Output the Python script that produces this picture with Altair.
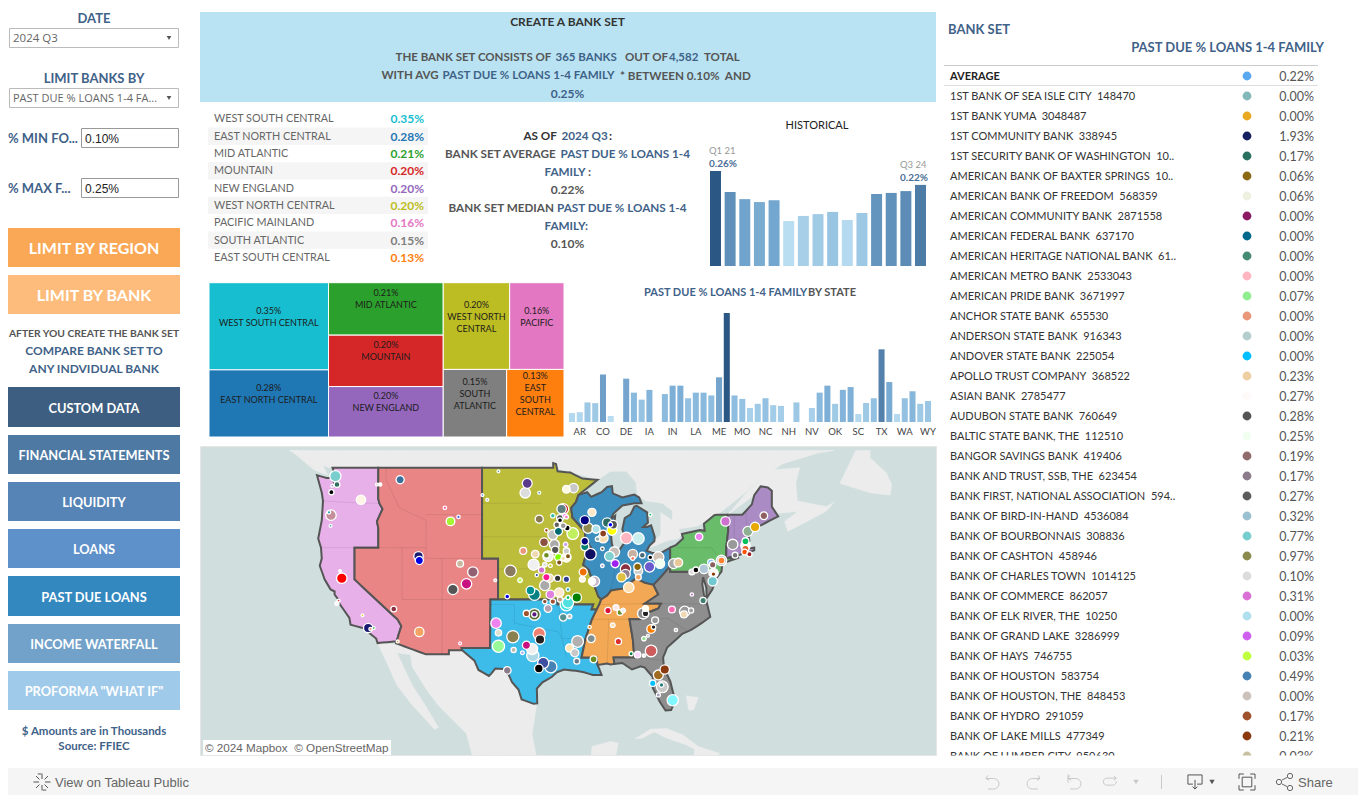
import math
import altair as alt
import pandas as pd

FONT = "Lato"
BLUE = "#3F6289"
GREY = "#555555"
NB = " \u00a0"  # keeps the double space between a bank name and its id

# ---------------- data ----------------
regions = ["WEST SOUTH CENTRAL", "EAST NORTH CENTRAL", "MID ATLANTIC", "MOUNTAIN", "NEW ENGLAND",
           "WEST NORTH CENTRAL", "PACIFIC MAINLAND", "SOUTH ATLANTIC", "EAST SOUTH CENTRAL"]
region_values = [0.0035, 0.0028, 0.0021, 0.0020, 0.0020, 0.0020, 0.0016, 0.0015, 0.0013]
region_colors = ["#17BECF", "#1F77B4", "#2CA02C", "#D62728", "#9467BD", "#BCBD22", "#E377C2", "#7F7F7F", "#FF7F0E"]

tree_columns = [["WSC", "ENC"], ["MA", "MTN", "NE"]]
tree_keys = ["WSC", "ENC", "MA", "MTN", "NE", "WNC", "PAC", "SA", "ESC"]
tree_labels = ["0.35%\nWEST SOUTH CENTRAL", "0.28%\nEAST NORTH CENTRAL", "0.21%\nMID ATLANTIC",
               "0.20%\nMOUNTAIN", "0.20%\nNEW ENGLAND", "0.20%\nWEST NORTH\nCENTRAL", "0.16%\nPACIFIC",
               "0.15%\nSOUTH\nATLANTIC", "0.13%\nEAST\nSOUTH\nCENTRAL"]
tree_weights = [10266, 7906, 5928, 5814, 5700, 5676, 4644, 4221, 3819]

quarters = ["Q1 21", "Q2 21", "Q3 21", "Q4 21", "Q1 22", "Q2 22", "Q3 22", "Q4 22",
            "Q1 23", "Q2 23", "Q3 23", "Q4 23", "Q1 24", "Q2 24", "Q3 24"]
hist_values = [0.26, 0.2025, 0.183, 0.175, 0.18, 0.123, 0.137, 0.142, 0.148, 0.126, 0.145, 0.197, 0.20, 0.205, 0.222]

states = ["AL", "AR", "AZ", "CA", "CO", "CT", "DC", "DE", "FL", "GA", "IA", "ID", "IL", "IN", "KS", "KY",
          "LA", "MA", "MD", "ME", "MI", "MN", "MO", "MS", "MT", "NC", "ND", "NE", "NH", "NJ", "NM", "NV",
          "NY", "OH", "OK", "OR", "PA", "SC", "SD", "TN", "TX", "UT", "VA", "WA", "WI", "WV", "WY"]
state_values = [.064, .07, .14, .135, .34, .043, 0, .31, .21, .16, .23, 0, .20, .26, .26, .17,
                .21, .21, .19, .32, .78, .19, .165, .10, .13, .17, .12, .115, 0, .14, 0, .10,
                .21, .26, .13, .23, .25, .057, .136, .17, .52, .286, .057, .17, .22, .13, .15]
state_ticks = ["AR", "CO", "DE", "IA", "IN", "LA", "ME", "MO", "NC", "NH", "NV", "OK", "SC", "TX", "WA", "WY"]

banks = ["AVERAGE", "1ST BANK OF SEA ISLE CITY  148470", "1ST BANK YUMA  3048487", "1ST COMMUNITY BANK  338945",
         "1ST SECURITY BANK OF WASHINGTON  10..", "AMERICAN BANK OF BAXTER SPRINGS  10..",
         "AMERICAN BANK OF FREEDOM  568359", "AMERICAN COMMUNITY BANK  2871558", "AMERICAN FEDERAL BANK  637170",
         "AMERICAN HERITAGE NATIONAL BANK  61..", "AMERICAN METRO BANK  2533043", "AMERICAN PRIDE BANK  3671997",
         "ANCHOR STATE BANK  655530", "ANDERSON STATE BANK  916343", "ANDOVER STATE BANK  225054",
         "APOLLO TRUST COMPANY  368522", "ASIAN BANK  2785477", "AUDUBON STATE BANK  760649",
         "BALTIC STATE BANK, THE  112510", "BANGOR SAVINGS BANK  419406", "BANK AND TRUST, SSB, THE  623454",
         "BANK FIRST, NATIONAL ASSOCIATION  594..", "BANK OF BIRD-IN-HAND  4536084", "BANK OF BOURBONNAIS  308836",
         "BANK OF CASHTON  458946", "BANK OF CHARLES TOWN  1014125", "BANK OF COMMERCE  862057",
         "BANK OF ELK RIVER, THE  10250", "BANK OF GRAND LAKE  3286999", "BANK OF HAYS  746755",
         "BANK OF HOUSTON  583754", "BANK OF HOUSTON, THE  848453", "BANK OF HYDRO  291059",
         "BANK OF LAKE MILLS  477349", "BANK OF LUMBER CITY  950630"]
bank_values = [.0022, 0, 0, .0193, .0017, .0006, .0006, 0, 0, 0, 0, .0007, 0, 0, 0, .0023, .0027, .0028, .0025,
               .0019, .0017, .0027, .0032, .0077, .0097, .0010, .0031, 0, .0009, .0003, .0049, 0, .0017, .0021, .0003]
bank_colors = ["#5AA9F0", "#84B8B8", "#E8A820", "#142060", "#2A7060", "#8B6914", "#EEF0E0", "#8B1A62", "#00688B",
               "#458B74", "#FFB6C1", "#90EE90", "#E9967A", "#B4CDCD", "#00BFFF", "#EECFA1", "#FFFAFA", "#555555",
               "#F0FFF0", "#8F6B6B", "#8B7B8B", "#5C5C5C", "#9BC0D0", "#76CDCD", "#8B8B4E", "#DCDCDC", "#DA70D6",
               "#B0E0EE", "#D060F0", "#BFFF3E", "#4682B4", "#CDC1BB", "#A0522D", "#8B3A0E", "#C8C0A0"]

# region outlines, lon/lat
pacific = [(-122.76, 49), (-117.03, 49), (-117.04, 46.4), (-116.9, 46), (-116.5, 45.5), (-117.2, 44.4), (-117.03, 43.8),
           (-117.03, 42), (-120, 42), (-120, 39), (-114.63, 35), (-114.15, 34.3), (-114.5, 33.4), (-114.72, 32.72),
           (-117.12, 32.53), (-117.3, 33), (-118.4, 33.75), (-118.5, 34.03), (-119.2, 34.15), (-120.5, 34.45),
           (-120.65, 35.15), (-121.9, 36.6), (-122, 36.95), (-122.5, 37.5), (-122.5, 37.8), (-123, 38), (-123.75, 39),
           (-124.35, 40.3), (-124.1, 41), (-124.2, 42), (-124.55, 42.85), (-124.1, 44.5), (-123.95, 46.2), (-124.1, 46.9),
           (-124.7, 48.38), (-123.5, 48.15), (-122.75, 48.15), (-122.4, 47.4), (-122.3, 47.9), (-122.5, 48.5)]
mountain = [(-117.03, 49), (-104.05, 49), (-104.05, 41), (-102.05, 41), (-102.05, 37), (-103, 37), (-103.05, 32),
            (-106.6, 32), (-106.53, 31.78), (-108.2, 31.78), (-108.2, 31.33), (-111.07, 31.33), (-114.8, 32.5),
            (-114.72, 32.72), (-114.5, 33.4), (-114.15, 34.3), (-114.63, 35), (-120, 39), (-120, 42), (-117.03, 42),
            (-117.03, 43.8), (-117.2, 44.4), (-116.5, 45.5), (-116.9, 46), (-117.04, 46.4)]
west_north = [(-104.05, 49), (-95.15, 49), (-95.15, 49.38), (-94.8, 49.3), (-94.6, 48.7), (-93, 48.6), (-91.5, 48.1),
              (-89.6, 48), (-92, 46.7), (-92.3, 46.1), (-92.9, 45.6), (-92.75, 44.75), (-91.2, 43.5), (-91.1, 42.7),
              (-90.2, 41.8), (-91.1, 41.2), (-91.4, 40.4), (-90.7, 39.9), (-90.2, 38.8), (-89.5, 37.3), (-89.15, 37),
              (-89.4, 36.5), (-89.7, 36), (-90.37, 36), (-90.15, 36.5), (-94.62, 36.5), (-94.62, 37), (-102.05, 37),
              (-102.05, 41), (-104.05, 41)]
west_south = [(-103, 37), (-94.62, 37), (-94.62, 36.5), (-90.15, 36.5), (-90.37, 36), (-89.7, 36), (-90.3, 35), (-91.1, 33),
              (-91.6, 31), (-89.73, 31), (-89.6, 30.2), (-89.4, 29.8), (-89.1, 29.1), (-90.2, 29.1), (-91.3, 29.4),
              (-92.3, 29.55), (-93.8, 29.7), (-94.7, 29.4), (-95.3, 28.9), (-96.5, 28.3), (-97.2, 27.6), (-97.15, 25.95),
              (-97.6, 25.9), (-99.1, 26.4), (-99.5, 27.5), (-100.3, 28.3), (-100.7, 29.1), (-101.4, 29.75), (-102.4, 29.8),
              (-102.9, 29.25), (-103.2, 29), (-104.5, 29.65), (-105, 30.65), (-106.53, 31.78), (-106.6, 32), (-103.05, 32)]
east_north = [(-92, 46.7), (-90.9, 46.95), (-90.4, 46.55), (-89.1, 46.95), (-88.4, 47.4), (-87.8, 47.47), (-87.7, 46.85),
              (-86.5, 46.5), (-85, 46.75), (-84.4, 46.5), (-84.1, 46), (-85, 46), (-86.5, 45.8), (-87.6, 45.1), (-88, 44.55),
              (-87.4, 44.9), (-87.5, 44.2), (-87.9, 43), (-87.8, 42.3), (-87.5, 41.7), (-86.9, 41.75), (-86.3, 42.4),
              (-86.25, 43.1), (-86.5, 43.7), (-86.2, 44.7), (-85.5, 45), (-85, 45.7), (-84.7, 45.78), (-83.4, 45.2),
              (-83.3, 44.3), (-83.9, 43.9), (-83.4, 43.9), (-82.9, 44.05), (-82.45, 43), (-82.5, 42.6), (-83.1, 42.2),
              (-83.45, 41.72), (-82.7, 41.5), (-81.7, 41.5), (-80.52, 42), (-80.52, 40.64), (-80.7, 40.1), (-81.7, 39.2),
              (-82.6, 38.45), (-83.7, 38.65), (-84.8, 39.1), (-85.4, 38.7), (-86.3, 38.1), (-87.9, 37.9), (-88.4, 37.4),
              (-89.15, 37), (-89.5, 37.3), (-90.2, 38.8), (-90.7, 39.9), (-91.4, 40.4), (-91.1, 41.2), (-90.2, 41.8),
              (-91.1, 42.7), (-91.2, 43.5), (-92.75, 44.75), (-92.9, 45.6), (-92.3, 46.1)]
east_south = [(-89.15, 37), (-88.4, 37.4), (-87.9, 37.9), (-86.3, 38.1), (-85.4, 38.7), (-84.8, 39.1), (-83.7, 38.65),
              (-82.6, 38.45), (-82, 37.5), (-83.68, 36.6), (-81.68, 36.59), (-82, 36.1), (-83.1, 35.75), (-84.3, 35),
              (-85.6, 35), (-85.18, 32.87), (-85, 31), (-87.6, 31), (-87.5, 30.3), (-88, 30.25), (-88.4, 30.35), (-89.6, 30.2),
              (-89.73, 31), (-91.6, 31), (-91.1, 33), (-90.3, 35), (-89.7, 36), (-89.4, 36.5)]
south_atlantic = [(-80.52, 40.64), (-80.52, 39.72), (-75.79, 39.72), (-75.4, 39.8), (-75.1, 38.8), (-75.05, 38.45), (-75.25, 38),
                  (-75.95, 37.15), (-76, 38.2), (-76.4, 39.2), (-76.5, 38.5), (-76.3, 37.5), (-76, 36.9), (-75.5, 35.25),
                  (-76.5, 34.65), (-77.9, 33.9), (-79, 33.5), (-80.9, 32.05), (-81.4, 31), (-81.3, 29.9), (-80.5, 28.4),
                  (-80.05, 26.8), (-80.15, 25.75), (-80.4, 25.2), (-81.1, 25.15), (-81.8, 26.1), (-82.7, 27.7), (-82.7, 28.9),
                  (-83.7, 29.9), (-84.2, 30.05), (-85.3, 29.7), (-86.5, 30.4), (-87.5, 30.3), (-87.6, 31), (-85, 31),
                  (-85.18, 32.87), (-85.6, 35), (-84.3, 35), (-83.1, 35.75), (-82, 36.1), (-81.68, 36.59), (-83.68, 36.6),
                  (-82, 37.5), (-82.6, 38.45), (-81.7, 39.2), (-80.7, 40.1)]
mid_atlantic = [(-80.52, 42), (-79.76, 42.27), (-78.9, 42.85), (-79.05, 43.27), (-76.8, 43.63), (-76.2, 43.55), (-76.3, 44.2),
                (-75, 44.95), (-74.7, 45), (-73.35, 45), (-73.25, 43.6), (-73.5, 42.05), (-73.5, 41.3), (-73.65, 41),
                (-71.9, 41.07), (-73.9, 40.55), (-74, 40.45), (-74.1, 39.75), (-74.9, 38.95), (-75.4, 39.4), (-75.55, 39.65),
                (-75.79, 39.72), (-80.52, 39.72), (-80.52, 40.64)]
new_england = [(-73.35, 45), (-71.5, 45), (-71.08, 45.3), (-70.3, 45.9), (-70, 46.7), (-69.2, 47.45), (-68.3, 47.35),
               (-67.8, 47.07), (-67.8, 45.7), (-67, 44.85), (-68.5, 44.3), (-70, 43.75), (-70.7, 43.05), (-70.6, 42.65),
               (-71, 42.3), (-70.6, 41.95), (-70, 42), (-70, 41.75), (-70.6, 41.6), (-71.4, 41.45), (-72, 41.3), (-73.65, 41),
               (-73.5, 41.3), (-73.5, 42.05), (-73.25, 43.6)]
region_shapes = [pacific, mountain, west_north, west_south, east_north, east_south, south_atlantic, mid_atlantic, new_england]
region_fills = ["#E8B0E8", "#E98585", "#BDBD3C", "#3DBCEA", "#3C8EBF", "#F2A854", "#8E8E8E", "#68BC6A", "#AA8BC4"]

# neighbouring land, lon/lat
canada_west = [(-128.2, 50.4), (-125, 49.5), (-123.2, 49), (-95, 49), (-89.5, 48), (-88, 48.7), (-86, 48.7), (-84.8, 47.8),
               (-84.6, 46.6), (-83.5, 46.2), (-81.5, 46), (-80.2, 45.3), (-80.3, 44.5), (-81.7, 45.2), (-81.7, 43.2),
               (-82.5, 42.6), (-83, 42), (-81, 42.6), (-79.5, 42.85), (-79.1, 43.2), (-79.5, 43.7), (-77, 44), (-75.8, 44.5),
               (-74.5, 45.05), (-71.5, 46.7), (-69, 48.2), (-66.5, 49.3), (-62, 50.2), (-60, 50.4)]
canada_east = [(-73.3, 45), (-71, 46.9), (-68, 48.8), (-64.3, 49), (-64.8, 47.8), (-64.6, 46.2), (-61, 45.7), (-60, 46.1),
               (-61, 45.3), (-65.8, 43.5), (-66.2, 44.4), (-64.5, 45.3), (-67, 45.1), (-67.8, 45.7), (-68, 47.2), (-70, 46.7)]
newfoundland = [(-59.3, 47.7), (-55.5, 46.9), (-53, 46.7), (-52.8, 47.6), (-53.5, 48.6), (-55.5, 49.8), (-55.5, 50.4), (-57.3, 50.4)]
vancouver = [(-125, 48.8), (-123.4, 48.4), (-124, 49.3), (-127, 50.4), (-128, 50.4)]
mexico = [(-117.1, 32.5), (-116, 30.5), (-114.7, 28), (-113, 26), (-110, 23), (-109.5, 23.2), (-111, 25.5), (-112.8, 28),
          (-114.7, 31.5), (-113, 31.3), (-112.8, 30), (-111, 27.5), (-109.5, 25.7), (-106, 22.5), (-105.3, 20), (-97.3, 20),
          (-97.8, 22.5), (-97.2, 25.9), (-100, 30), (-106, 32)]
yucatan = [(-90.4, 20), (-90.3, 21), (-88, 21.6), (-87, 21.4), (-87.3, 20)]
cuba = [(-84.9, 21.9), (-83, 23), (-81, 23.1), (-79, 22.4), (-77, 21), (-74.3, 20.2), (-74.5, 20), (-77.5, 20), (-77.5, 20.7),
        (-78.5, 21.2), (-81, 22), (-82.5, 22.7), (-84, 22)]
bahamas = [(-78.5, 26.8), (-77, 26.6), (-77.6, 25.2), (-78.2, 25.2)]
land_shapes = [canada_west, canada_east, newfoundland, vancouver, mexico, yucatan, cuba, bahamas]

state_lines = [
    [(-111.05, 45), (-104.05, 45)], [(-111.05, 44.5), (-111.05, 41)], [(-111.05, 41), (-104.05, 41)],
    [(-116.05, 49), (-116.05, 48), (-114.4, 45.6), (-111.05, 44.5)], [(-120, 42), (-111.05, 42)], [(-114.05, 42), (-114.05, 37)],
    [(-114.05, 37), (-102.05, 37)], [(-109.05, 41), (-109.05, 31.33)], [(-124.2, 42), (-120, 42)], [(-124, 46.2), (-119, 46), (-117, 46)],
    [(-104.05, 46), (-96.6, 46)], [(-104.05, 43), (-96.5, 43)], [(-102.05, 40), (-95.3, 40)], [(-96.5, 43), (-91.2, 43.5)],
    [(-90.6, 42.5), (-87.8, 42.5)], [(-87.5, 41.7), (-87.5, 39.3), (-88, 37.9)], [(-84.8, 41.7), (-84.8, 39.1)], [(-84.8, 41.7), (-83.45, 41.72)],
    [(-103, 36.5), (-100, 36.5), (-100, 34.6), (-94.5, 33.7), (-94.05, 33), (-91.1, 33)], [(-94.45, 36.5), (-94.05, 33), (-93.5, 31)],
    [(-88.2, 35), (-85.6, 35)], [(-90.3, 35), (-88.2, 35)], [(-89.4, 36.5), (-83.68, 36.6)], [(-88.2, 35), (-88.4, 30.35)],
    [(-73.35, 42.75), (-70.8, 42.85)], [(-72.5, 45), (-72.5, 42.75)], [(-71.1, 45.3), (-70.8, 43.1)], [(-73.5, 42.05), (-71.8, 42.02)],
    [(-79.76, 42), (-75.35, 42), (-74.7, 41.35)], [(-83.68, 36.6), (-75.9, 36.55)], [(-84.3, 35), (-83.1, 35), (-80.8, 35.1), (-78.5, 33.85)],
    [(-85, 31), (-81.5, 30.7)],
]

# bank locations as read: lon, lat, radius, colour
dots_west = [(-122.4, 48.3, 5.7, "#78CDCD"), (-122.2, 47.6, 2.7, "#2F6F60"), (-122.9, 46.95, 2.3, "#000000"), (-122.8, 47.5, 1, "#8A80D0"),
             (-119.2, 46.3, 4.7, "#FFF5E6"), (-122.95, 44.95, 5.3, "#C48F9A"), (-123.2, 45.2, 1.3, "#20A0B0"), (-123, 44, 1, "#30A0A0"),
             (-114.3, 48, 4, "#3A6F9A"), (-117.2, 47.6, 1, "#F0C0C0"), (-116.8, 47.6, 1.3, "#FFFFFF"), (-108.7, 45.6, 1.3, "#FF40A0"),
             (-108, 44.4, 4.3, "#A5F535"), (-107, 44.8, 1.3, "#4060F0"), (-112, 41.2, 4.7, "#1A1A70"), (-111.9, 40.8, 4, "#0000E0"),
             (-106.8, 40.5, 3.3, "#C8B8A0"), (-105.2, 39.7, 5.3, "#926070"), (-106, 38.55, 5.3, "#C81080"), (-107.7, 38, 5.3, "#555555"),
             (-102.4, 38.9, 1, "#F0C0C0"), (-115.1, 36.05, 2.7, "#8B3040"), (-111.9, 33.7, 4.7, "#F4A460"), (-106.8, 32.5, 1, "#F060B0"),
             (-114.6, 32.7, 1, "#F0A040"), (-121.6, 39.1, 5.3, "#FF0000"), (-121.8, 39.8, 1, "#FFFFFF"), (-122, 36.9, 1, "#E03030"),
             (-122.2, 36.6, 1.7, "#FFFFFF"), (-119, 35.4, 1, "#F0D020"), (-118.3, 34.1, 4.7, "#1A1A70"), (-117.6, 34.1, 1, "#00A040"),
             (-118, 34, 1.3, "#E9967A")]
dots_plains = [(-98.4, 47.7, 5, "#5A3A8A"), (-98.65, 46.9, 5.3, "#DCDCDC"), (-96.9, 46.9, 1, "#2A8090"), (-102, 48.7, 1, "#70A090"),
               (-104, 46.7, 1, "#70A0F0"), (-103.4, 46.3, 1, "#A0B0B0"), (-93.5, 47.2, 3.7, "#FFF8E0"), (-92.6, 47.3, 4.7, "#C8C8C8"),
               (-96.9, 44.6, 4, "#8A7A50"), (-93.9, 45.5, 5.5, "#C80000"), (-94.1, 45.5, 4.7, "#5F8080"), (-95.2, 43.2, 5, "#C0C0C0"),
               (-96.3, 42.5, 4.3, "#8B5040"), (-95, 42.3, 5, "#AAAAAA"), (-94.9, 41.8, 3.7, "#555555"), (-98.9, 41.7, 3.3, "#E9967A"),
               (-97.4, 41.4, 3.7, "#F0D8B0"), (-95.8, 41.2, 5.3, "#EEEEEE"), (-96, 41.3, 2.7, "#6B8E23"), (-94.5, 41.1, 3.7, "#80FF00"),
               (-100.5, 39.8, 6, "#8A7A60"), (-97.6, 40.4, 5.7, "#F0F0F0"), (-96.6, 39.9, 3, "#D070D0"), (-96.2, 38.4, 5.3, "#AAAAAA"),
               (-95.6, 39.1, 4, "#F0D8B0"), (-95.5, 37.5, 4.3, "#E080E0"), (-93.5, 39, 3, "#304090"), (-94.4, 37.7, 4.7, "#FFE8D0"),
               (-98, 37.9, 4.3, "#009090"), (-97.5, 37.5, 6, "#008080"), (-100.9, 37.3, 2, "#0000E0"), (-99.3, 38.9, 2, "#C0FF60"),
               (-92.7, 43.3, 6, "#C0F060"), (-93.4, 43.8, 2.7, "#000000"), (-93.5, 41.1, 4.7, "#FFF8E0"), (-91.4, 39.7, 4, "#F07000"),
               (-91.5, 39, 2.7, "#FFF8E0"), (-90, 38.8, 5.3, "#C8B8C8"), (-90.3, 38.8, 3.3, "#FFFFFF"), (-92.2, 37.2, 4.7, "#008000"),
               (-93.3, 36.7, 5.7, "#50E0E0"), (-93.3, 37.2, 1.7, "#00C060"), (-94.3, 44.5, 2.2, "#000000"), (-93.6, 42.3, 2, "#D0A0F0"),
               (-94.4, 40.6, 2.4, "#7F5010"), (-93.9, 41, 2, "#F0E0B0"), (-95.2, 44.9, 2, "#30C0A0"), (-94.7, 44.1, 2.6, "#606060"),
               (-95.5, 40.3, 1.5, "#D0D030"), (-96, 43.6, 1.5, "#A04020"), (-97.2, 39.4, 1.3, "#3050A0"), (-95.2, 36.8, 2.5, "#A05030"),
               (-94.3, 37, 2.4, "#C0A080"), (-93.3, 38, 1.5, "#20A0C0"), (-96, 39.2, 3.5, "#FF1493"), (-94.6, 39.1, 3, "#333333"),
               (-94.3, 44.7, 3.3, "#555555"), (-93.9, 44, 2.7, "#999999"), (-94.5, 43.5, 4, "#006A70"), (-93.5, 44.8, 1.7, "#FF80C0"),
               (-93.5, 41.7, 3, "#CCCCCC"), (-93.3, 41.2, 2.3, "#7F5010"), (-96.2, 40.4, 2, "#E0E0E0"), (-93.7, 44.9, 2, "#FF69FF")]
dots_great_lakes = [(-90.3, 45.2, 4, "#FFE8C8"), (-91.2, 44.5, 4.7, "#000080"), (-90.8, 43.8, 5.3, "#8F8850"), (-89.8, 43.7, 4, "#B0E0E8"),
                    (-88.4, 44.3, 4.7, "#2A6A60"), (-87.65, 44.1, 4.3, "#555555"), (-87.8, 43.6, 5, "#FFFF00"), (-88, 44.1, 2, "#0000FF"),
                    (-86, 42.9, 6, "#FFB6C1"), (-84.5, 42.85, 6, "#C8EEEE"), (-88.9, 42.9, 5, "#F5DEB3"), (-88.9, 43.3, 3.3, "#8B4020"),
                    (-91.2, 42.6, 3.7, "#000080"), (-91.2, 42.1, 4, "#008070"), (-90.5, 41.4, 6, "#101060"), (-88.1, 41.2, 5, "#80D0D0"),
                    (-87.5, 41.6, 5.3, "#C8BEB8"), (-87.4, 40.5, 4, "#A020F0"), (-86.1, 40, 5.3, "#8B3040"), (-86.1, 39.5, 4.7, "#908090"),
                    (-86.6, 39.2, 4.7, "#E0C040"), (-85.2, 41.4, 4.7, "#C8B0A0"), (-85.2, 41, 1.7, "#FF7050"), (-84.6, 40.2, 3.7, "#8B6508"),
                    (-84.5, 39.8, 4.3, "#CCCCCC"), (-84.5, 39.2, 2.7, "#F4A460"), (-83.1, 40.2, 5.3, "#6A5ACD"), (-82, 41.1, 5.7, "#D3C4B8"),
                    (-81.8, 40.5, 4.7, "#F0FFF0"), (-84, 41.3, 2.7, "#4A6A7A"), (-83, 41.1, 2, "#000000"), (-85.7, 38.2, 5.3, "#FFDEAD"),
                    (-89.6, 42.8, 2, "#90B0B0"), (-89, 41.9, 1.4, "#606060"), (-89, 40.3, 1.4, "#A0A0D0"), (-83, 45, 1.2, "#00C060")]
dots_northeast = [(-80.1, 40.5, 5, "#AAAAAA"), (-79.5, 40.6, 4.3, "#E8C898"), (-76.9, 43, 3.7, "#EE82EE"), (-73.6, 44.4, 4.7, "#D070D0"),
                  (-77.8, 39.7, 2.7, "#DDDDDD"), (-77.3, 39.9, 2.7, "#000000"), (-76.3, 40, 4.7, "#B0C8D8"), (-75.4, 40.6, 3.3, "#80C0FF"),
                  (-75.2, 40.4, 3, "#8B6060"), (-74.1, 40.8, 5.3, "#AAAAAA"), (-74.1, 40.8, 3.3, "#FF8030"), (-75.1, 39.6, 4.7, "#F8F8F8"),
                  (-75.1, 39.5, 2, "#8B4000"), (-75.2, 38.8, 4.7, "#70C8D0"), (-76.4, 36.9, 3, "#408070"), (-77.8, 37.5, 1.3, "#C070C0"),
                  (-68.8, 44.9, 3.7, "#8F6060"), (-69.9, 43.9, 4.7, "#E8A800"), (-70.8, 43.5, 5, "#8FB090"), (-72.7, 42.3, 5.3, "#999999"),
                  (-71.1, 42.6, 3.3, "#00C060"), (-71.1, 42.2, 4.7, "#F8F8F8"), (-71.1, 41.9, 3.3, "#E06030"), (-70.6, 41.4, 2.3, "#A02020"),
                  (-72.4, 41.3, 2.7, "#777777"), (-71.2, 41.6, 2.7, "#FF5000")]
dots_south = [(-80.3, 36, 3.3, "#FF69B4"), (-78.7, 35.8, 5.3, "#999999"), (-78.8, 35.5, 3.3, "#F0D8B0"), (-77.9, 35.9, 2.3, "#A0A0A0"),
              (-82.4, 34.9, 3.3, "#999999"), (-82.9, 34, 4.3, "#FF8000"), (-82.6, 34.2, 2, "#222222"), (-82.9, 31.7, 6, "#CD5C5C"),
              (-83.8, 33, 2, "#90E090"), (-83.3, 33.3, 1, "#A0A0A0"), (-79.8, 33.9, 1.3, "#C0C0C0"), (-84.6, 31.3, 3, "#FFD8FF"),
              (-83.8, 31.2, 1.3, "#F0F0F0"), (-85.4, 31.4, 1.7, "#008040"), (-81.2, 29.7, 4.7, "#8B3A10"), (-82, 29.1, 5, "#A06A20"),
              (-81.5, 27.8, 6, "#C8C8C8"), (-82.7, 28.2, 3, "#00BFFF"), (-81.6, 28, 2, "#308080"), (-80.2, 26.3, 5.7, "#80F8FF"),
              (-82, 26.9, 1.7, "#A0A0C0"), (-88.3, 35.9, 3, "#DC143C"), (-87.3, 36.2, 2.7, "#FFE8E8"), (-86.8, 35.7, 2.7, "#6B8E23"),
              (-86.4, 35.9, 2, "#F0F0F0"), (-83.6, 36.1, 2.7, "#FFFFF0"), (-83.9, 35.6, 5.7, "#888888"), (-83.6, 35.6, 3, "#222222"),
              (-87.7, 34.4, 2, "#FFDEAD"), (-87, 32.7, 3, "#DC3030"), (-90.4, 33, 4, "#7F8F8F"), (-90.6, 34.2, 1.3, "#F08000"),
              (-92.1, 32.7, 6, "#B0B0B0"), (-93.1, 32, 4, "#FFE4B5"), (-92.45, 31.5, 4, "#C8C8C8"), (-93.9, 35.2, 3.7, "#559090"),
              (-93.1, 35.3, 2, "#C0C0C0"), (-92.2, 30.6, 2.7, "#6A7A8A"), (-90.1, 30.8, 3.3, "#6B8E23"), (-97.5, 35.5, 6, "#556B2F"),
              (-97.5, 35.5, 2.5, "#5A1A80"), (-98.5, 35.6, 3, "#A0522D"), (-95.8, 36.1, 3.7, "#B0A0B0"), (-102.3, 34.6, 5.3, "#EE82EE"),
              (-102, 33.6, 3, "#E0E0D0"), (-100.2, 33.2, 6.3, "#8A8050"), (-102, 32.2, 6.3, "#98FB98"), (-96.9, 33.5, 6.3, "#F08070"),
              (-96.8, 32.9, 4.7, "#222222"), (-98.5, 32.3, 4, "#C81080"), (-97.8, 31.9, 5.7, "#F0F0F0"), (-97.7, 31.2, 6.3, "#ADD8E6"),
              (-100.1, 31.8, 2.3, "#C0B8B0"), (-96.4, 30.4, 5.7, "#3F4FA0"), (-96.95, 29.8, 4.3, "#000000"), (-95.45, 30, 6.3, "#4682B4"),
              (-100.9, 29.6, 3.7, "#8A7A8A"), (-93.5, 36.5, 6.5, "#40E0E0"), (-96.2, 36.8, 2, "#8B5030"), (-99, 31.5, 1.5, "#A0A0E0")]
dot_groups = [dots_west, dots_plains, dots_great_lakes, dots_northeast, dots_south]

# ---------------- helpers ----------------
ONE = alt.Data(values=[{"k": 0}])
M = 8  # page margin
W, H = 1350, 787
LIFT = 0.5  # rendered text offset against the reference


def rect(x0, x1, y0, y1, fill, stroke=None, width=1):
    kw = {"color": fill}
    if stroke:
        kw = {"fill": fill, "stroke": stroke, "strokeWidth": width}
    return alt.Chart(ONE).mark_rect(**kw).encode(x=alt.value(x0 - M), x2=alt.value(x1 - M), y=alt.value(y0 - M), y2=alt.value(y1 - M))


def rule(x0, x1, y0, y1, color, width=1):
    return alt.Chart(ONE).mark_rule(color=color, strokeWidth=width).encode(
        x=alt.value(x0 - M), x2=alt.value(x1 - M), y=alt.value(y0 - M), y2=alt.value(y1 - M))


def text(t, x, y, size=12, color=GREY, weight="normal", align="left", font=FONT):
    return alt.Chart(ONE).mark_text(text=t, font=font, fontSize=size, color=color, fontWeight=weight, align=align,
                                    baseline="middle").encode(x=alt.value(x - M), y=alt.value(y - M + LIFT))


def icon(shape, x, y, size, color, fill=False, width=1):
    kw = {"fill": color, "filled": True, "strokeWidth": 0} if fill else {"stroke": color, "filled": False, "strokeWidth": width}
    return alt.Chart(ONE).mark_point(shape=shape, size=size, opacity=1, **kw).encode(x=alt.value(x - M), y=alt.value(y - M))


def densify(ring, step=0.5):
    out = []
    for (a, b), (c, d) in zip(ring, ring[1:]):
        n = max(1, int(max(abs(c - a), abs(d - b)) / step))
        out += [(a + (c - a) * i / n, b + (d - b) * i / n) for i in range(n)]
    return out + [ring[-1]]


def polygon(ring, fill):
    ring = list(ring) + [ring[0]]
    area = sum(a * d - c * b for (a, b), (c, d) in zip(ring, ring[1:]))
    if area > 0:  # d3-geo wants clockwise exterior rings
        ring = ring[::-1]
    return {"type": "Feature", "properties": {"fill": fill},
            "geometry": {"type": "Polygon", "coordinates": [[list(p) for p in densify(ring)]]}}


PROJ = dict(type="mercator", scale=458, translate=[1313.8 - M, 918.3 - M])
layers = []

# ---------------- page furniture ----------------
layers += [text("DATE", 94, 18.5, 13, BLUE, "bold", "center"),
           rect(9.5, 178.5, 28.5, 47.5, "#FFFFFF", "#BBBBBB"),
           text("2024 Q3", 13, 38, 11.5, "#666666", font="Open Sans"),
           icon("triangle-down", 169, 38, 22, "#555555", True),
           text("LIMIT BANKS BY", 94, 78, 13, BLUE, "bold", "center"),
           rect(9.5, 178.5, 88.5, 107.5, "#FFFFFF", "#BBBBBB"),
           text("PAST DUE % LOANS 1-4 FA...", 13, 98, 11, "#666666", font="Open Sans"),
           icon("triangle-down", 169, 98, 22, "#555555", True),
           text("% MIN FO...", 8, 138.5, 13, BLUE, "bold"),
           rect(81.5, 178.5, 128.5, 147.5, "#FFFFFF", "#999999"),
           text("0.10%", 85, 138.5, 12, "#222222", font="Liberation Sans"),
           text("% MAX F...", 8, 188.5, 13, BLUE, "bold"),
           rect(81.5, 178.5, 178.5, 197.5, "#FFFFFF", "#999999"),
           text("0.25%", 85, 188.5, 12, "#222222", font="Liberation Sans"),
           rect(8, 180, 228, 267, "#FAA856"), text("LIMIT BY REGION", 94, 248, 16, "#FFFFFF", "bold", "center"),
           rect(8, 180, 275, 314, "#FDBC7C"), text("LIMIT BY BANK", 94, 295, 16, "#FFFFFF", "bold", "center"),
           text("AFTER YOU CREATE THE BANK SET", 94, 333, 10.3, GREY, "bold", "center"),
           text("COMPARE BANK SET TO", 94, 350.5, 12, BLUE, "bold", "center"),
           text("ANY INDVIDUAL BANK", 94, 368.5, 12, BLUE, "bold", "center")]
buttons = [("CUSTOM DATA", 387, 427, "#3D5E80"), ("FINANCIAL STATEMENTS", 435, 474, "#4D79A3"), ("LIQUIDITY", 482, 521, "#5684B6"),
           ("LOANS", 529, 568, "#5E90CA"), ("PAST DUE LOANS", 576, 616, "#3388C0"), ("INCOME WATERFALL", 624, 663, "#72A2C9"),
           ('PROFORMA "WHAT IF"', 671, 710, "#9FCAE9")]
for label, y0, y1, c in buttons:
    layers += [rect(8, 180, y0, y1, c), text(label, 94, (y0 + y1) / 2 + 1, 12.8, "#FFFFFF", "bold", "center")]
layers += [text("$ Amounts are in Thousands", 94, 731, 11.5, BLUE, "bold", "center"),
           text("Source: FFIEC", 94, 746, 11.5, BLUE, "bold", "center")]

# header band
layers += [rect(200, 936, 12, 102, "#B9E3F2"),
           text("CREATE A BANK SET", 567.5, 21.5, 12, "#333333", "bold", "center"),
           text("THE BANK SET CONSISTS OF", 395.5, 57.5, 11.5, GREY, "bold"), text("365 BANKS", 555.5, 57.5, 11.5, BLUE, "bold"),
           text("OUT OF", 625, 57.5, 11.5, GREY, "bold"), text("4,582", 669, 57.5, 11.5, BLUE, "bold"), text("TOTAL", 704, 57.5, 11.5, GREY, "bold"),
           text("WITH AVG", 381.5, 75.5, 11.5, GREY, "bold"), text("PAST DUE % LOANS 1-4 FAMILY", 442.5, 75.5, 11.6, BLUE, "bold"),
           text("* BETWEEN 0.10%" + NB + "AND", 620, 75.5, 11.7, GREY, "bold"),
           text("0.25%", 567.5, 93.5, 12, BLUE, "bold", "center")]

# centre call-out
layers += [text("AS OF", 523.5, 135, 11.7, "#333333", "bold"), text("2024 Q3", 561.5, 135, 11.7, BLUE, "bold"), text(":", 609, 135, 12, "#333333", "bold"),
           text("BANK SET AVERAGE", 445, 153.5, 11.7, GREY, "bold"), text("PAST DUE % LOANS 1-4", 560.5, 153.5, 11.7, BLUE, "bold"),
           text("FAMILY", 544.5, 171.5, 11.7, BLUE, "bold"), text(":", 588, 171.5, 12, GREY, "bold"),
           text("0.22%", 567.5, 189.5, 12, GREY, "bold", "center"),
           text("BANK SET MEDIAN", 448.5, 207.5, 11.7, GREY, "bold"), text("PAST DUE % LOANS 1-4", 557, 207.5, 11.7, BLUE, "bold"),
           text("FAMILY:", 544.5, 225.5, 11.7, BLUE, "bold"),
           text("0.10%", 567.5, 243.5, 12, GREY, "bold", "center")]

# ---------------- region list ----------------
region_df = pd.DataFrame({"region": regions, "value": region_values, "color": region_colors,
                          "row": range(len(regions))})
row_y = alt.Y("region:N", sort=None, axis=None,
              scale=alt.Scale(type="band", domain=regions, range=[110.3 - M, 266 - M]))
layers += [
    alt.Chart(region_df).transform_filter("datum.row % 2 == 1").mark_rect(color="#F5F5F5").encode(
        y=row_y, x=alt.value(208 - M), x2=alt.value(428 - M)),
    alt.Chart(region_df).mark_text(align="left", baseline="middle", font=FONT, fontSize=10.8, color="#666666", dy=LIFT).encode(
        y=row_y, x=alt.value(214 - M), text="region:N"),
    alt.Chart(region_df).mark_text(align="right", baseline="middle", font=FONT, fontSize=12, fontWeight="bold", dy=LIFT).encode(
        y=row_y, x=alt.value(424 - M), text=alt.Text("value:Q", format=".2%"), color=alt.Color("color:N", scale=None)),
]

# ---------------- treemap ----------------
w = dict(zip(tree_keys, tree_weights))
total = sum(tree_weights)
tx, tree_rows = 0.0, []
for col in tree_columns:
    cw = sum(w[k] for k in col) / total
    ty = 0.0
    for k in col:
        h = w[k] / sum(w[j] for j in col)
        tree_rows.append((k, tx, tx + cw, ty, ty + h))
        ty += h
    tx += cw
rest_top, rest_bot = ["WNC", "PAC"], ["SA", "ESC"]
rest_total = sum(w[k] for k in rest_top + rest_bot)
rest_w = rest_total / total
split = sum(w[k] for k in rest_top) / rest_total
for keys, y0, y1 in [(rest_top, 0.0, split), (rest_bot, split, 1.0)]:
    x0 = tx
    for k in keys:
        cw = rest_w * w[k] / sum(w[j] for j in keys)
        tree_rows.append((k, x0, x0 + cw, y0, y1))
        x0 += cw
tree_df = pd.DataFrame(tree_rows, columns=["key", "x0", "x1", "y0", "y1"])
tree_df = tree_df.merge(pd.DataFrame({"key": tree_keys, "label": tree_labels, "color": region_colors}), on="key")
tree_df["xc"] = (tree_df.x0 + tree_df.x1) / 2
tree_df["yc"] = (tree_df.y0 + tree_df.y1) / 2
tree_df["lines"] = tree_df.label.str.count("\n") + 1
tx_scale = alt.Scale(domain=[0, 1], range=[209 - M, 564 - M])
ty_scale = alt.Scale(domain=[0, 1], range=[282.7 - M, 437 - M])
layers.append(alt.Chart(tree_df).mark_rect(stroke="#FFFFFF", strokeWidth=1).encode(
    x=alt.X("x0:Q", scale=tx_scale, axis=None), x2="x1:Q",
    y=alt.Y("y0:Q", scale=ty_scale, axis=None), y2="y1:Q", color=alt.Color("color:N", scale=None)))
for n in sorted(tree_df.lines.unique()):
    layers.append(alt.Chart(tree_df[tree_df.lines == n]).mark_text(
        lineBreak="\n", lineHeight=12, font=FONT, fontSize=9, color="#1C1C1C", dy=float(-(n - 1) * 6 - 9.5),
        align="center", baseline="middle").encode(
        x=alt.X("xc:Q", scale=tx_scale, axis=None), y=alt.Y("yc:Q", scale=ty_scale, axis=None), text="label:N"))

# ---------------- historical bars ----------------
hist_df = pd.DataFrame({"quarter": quarters, "value": hist_values})
layers += [
    text("HISTORICAL", 817, 125, 11, "#222222", "normal", "center"),
    alt.Chart(hist_df).mark_bar().encode(
        x=alt.X("quarter:N", sort=None, axis=None,
                scale=alt.Scale(domain=quarters, range=[710 - M, 926 - M], paddingInner=0.25, paddingOuter=0)),
        y=alt.Y("value:Q", axis=None, scale=alt.Scale(domain=[0, 0.26], range=[266 - M, 171 - M], nice=False)),
        color=alt.Color("value:Q", legend=None,
                        scale=alt.Scale(domain=[0.123, 0.18, 0.26], range=["#B9DDF1", "#74A7CF", "#2A5783"]))),
    text("Q1 21", 709, 150, 9.5, "#999999"), text("0.26%", 709, 163, 10, "#4A6F96", "bold"),
    text("Q3 24", 900, 164, 9.5, "#999999"), text("0.22%", 900, 177, 10, "#4A6F96", "bold"),
]

# ---------------- state bars ----------------
state_df = pd.DataFrame({"state": states, "value": state_values})
layers += [
    text("PAST DUE % LOANS 1-4 FAMILY", 644, 292, 11, BLUE, "bold"),
    text("BY STATE", 808, 292, 11, GREY, "bold"),
    alt.Chart(state_df).mark_bar().encode(
        x=alt.X("state:N", sort=None, scale=alt.Scale(domain=states, range=[569 - M, 931 - M], paddingInner=0.22, paddingOuter=0),
                axis=alt.Axis(values=state_ticks, title=None, domain=False, ticks=False, labelAngle=0, labelFont=FONT,
                              labelFontSize=9.5, labelColor="#444444", labelPadding=4, labelOverlap=False,
                              offset=422 - M - H)),
        y=alt.Y("value:Q", axis=None, scale=alt.Scale(domain=[0, 0.78], range=[422 - M, 313 - M], nice=False)),
        color=alt.Color("value:Q", legend=None,
                        scale=alt.Scale(domain=[0.04, 0.25, 0.78], range=["#B9DDF1", "#7FB0D8", "#2A5783"]))),
]

# ---------------- map ----------------
land_features = [polygon(r, "#ECECEC") for r in land_shapes]
region_features = [polygon(r, f) for r, f in zip(region_shapes, region_fills)]
line_features = [{"type": "Feature", "properties": {},
                  "geometry": {"type": "MultiLineString", "coordinates": [[list(p) for p in densify(l)] for l in state_lines]}}]
dots = sorted([d for g in dot_groups for d in g], key=lambda d: -d[2])
dots_df = pd.DataFrame(dots, columns=["lon", "lat", "radius", "color"])
dots_df["area"] = math.pi * (dots_df.radius + 0.6) ** 2
layers += [
    rect(200.5, 936.5, 446.5, 755.5, "#D0DEDE", "#E6E6E6"),
    alt.Chart(alt.Data(values=land_features)).mark_geoshape(color="#ECECEC", stroke="#ECECEC", strokeWidth=0.5).project(**PROJ),
    alt.Chart(alt.Data(values=region_features)).mark_geoshape(stroke="#555555", strokeWidth=2).encode(
        fill=alt.Fill("properties.fill:N", scale=None)).project(**PROJ),
    alt.Chart(alt.Data(values=line_features)).mark_geoshape(filled=False, stroke="#000000", strokeOpacity=0.08, strokeWidth=1).project(**PROJ),
    alt.Chart(dots_df).mark_circle(opacity=1, stroke="#FFFFFF", strokeWidth=1.3).encode(
        longitude="lon:Q", latitude="lat:Q", size=alt.Size("area:Q", scale=None),
        color=alt.Color("color:N", scale=None)).project(**PROJ),
    rect(203, 391, 740, 755, "#FFFFFF"),
    text("© 2024 Mapbox" + NB + "© OpenStreetMap", 205, 747.5, 11.7, "#666666", font="Liberation Sans"),
]

# ---------------- bank table ----------------
bank_df = pd.DataFrame({"bank": [b.replace("  ", NB) for b in banks], "value": bank_values, "color": bank_colors,
                        "row": range(len(banks))})
bank_y = alt.Y("bank:N", sort=None, axis=None,
               scale=alt.Scale(type="band", domain=list(bank_df.bank), range=[66 - M, 766 - M]))
layers += [
    text("BANK SET", 948, 29, 13, BLUE, "bold"),
    text("PAST DUE % LOANS 1-4 FAMILY", 1324, 47.5, 13, BLUE, "bold", "right"),
    rule(944, 1318, 65.5, 65.5, "#CCCCCC"), rule(944, 1318, 85.5, 85.5, "#DDDDDD"),
    alt.Chart(bank_df).transform_filter("datum.row > 0").mark_text(align="left", baseline="middle", font=FONT, fontSize=11, color="#333333", dy=LIFT).encode(
        y=bank_y, x=alt.value(950 - M), text="bank:N"),
    alt.Chart(bank_df).transform_filter("datum.row == 0").mark_text(align="left", baseline="middle", font=FONT, fontSize=11,
                                                                    fontWeight="bold", color="#222222", dy=LIFT).encode(
        y=bank_y, x=alt.value(950 - M), text="bank:N"),
    alt.Chart(bank_df).mark_circle(size=78, opacity=1).encode(
        y=bank_y, x=alt.value(1247 - M), color=alt.Color("color:N", scale=None)),
    alt.Chart(bank_df).mark_text(align="right", baseline="middle", font=FONT, fontSize=12.5, color="#555555", dy=LIFT).encode(
        y=bank_y, x=alt.value(1314 - M), text=alt.Text("value:Q", format=".2%")),
    rect(940, 1358, 755.5, 768, "#FFFFFF"),
]

# ---------------- toolbar ----------------
TC = "#C9C9C9"
UNDO = "M-.75,-.95 L-1,-.5 L-.55,-.25 M-1,-.5 H.1 A.75,.75 0 0 1 .1,1 H-.7"
REDO = "M.75,-.95 L1,-.5 L.55,-.25 M1,-.5 H-.1 A.75,.75 0 0 0 -.1,1 H.7"
layers += [
    rect(8, 1358, 768, 795, "#F5F5F5"),
    icon("M0,-1 V-.35 M0,.35 V1 M-1,0 H-.35 M.35,0 H1 M-.7,-.7 L-.3,-.3 M.7,-.7 L.3,-.3 M-.7,.7 L-.3,.3 M.7,.7 L.3,.3 M-.5,-.95 H-.1 M.1,.95 H.5", 42, 782, 289, "#555555"),
    text("View on Tableau Public", 55, 782, 13, "#666666", font="Liberation Sans"),
    icon(UNDO, 993, 782, 196, TC),
    icon(REDO, 1033, 782, 196, TC),
    icon(UNDO + " M-1,-1.1 V.1", 1075, 782, 196, TC),
    icon("M.9,-.55 H-.45 A.5,.5 0 0 0 -.45,.45 H.45 A.5,.5 0 0 0 .9,-.1 M.55,-.85 L.9,-.55 L.55,-.25", 1110, 782, 196, TC),
    icon("triangle-down", 1136, 782, 28, TC, True),
    rule(1161.5, 1161.5, 775, 789, TC),
    icon("M-1,.3 V-1 H1 V.3 H.3 M-.3,.3 H-1 M0,-.3 V1 M-.35,.65 L0,1 L.35,.65", 1195, 782, 200, "#555555"),
    icon("triangle-down", 1212, 782, 28, "#555555", True),
    icon("M-1,-.4 V-1 H-.4 M.4,-1 H1 V-.4 M1,.4 V1 H.4 M-.4,1 H-1 V.4 M-.6,-.6 H.6 V.6 H-.6 Z", 1247, 782, 256, "#555555"),
    icon("circle", 1279, 782, 28, "#666666"), icon("circle", 1290, 776, 28, "#666666"), icon("circle", 1290, 788, 28, "#666666"),
    rule(1282, 1287, 780, 777.5, "#666666"), rule(1282, 1287, 784, 786.5, "#666666"),
    text("Share", 1298, 782, 13, "#666666", font="Liberation Sans"),
]

chart = alt.layer(*layers).resolve_scale(x="independent", y="independent", color="independent").properties(
    width=W, height=H, padding=0, autosize=alt.AutoSizeParams(type="none"), background="#FFFFFF"
).configure_view(stroke=None)
chart.save("out.html", embed_options={"renderer": "svg", "actions": False})
